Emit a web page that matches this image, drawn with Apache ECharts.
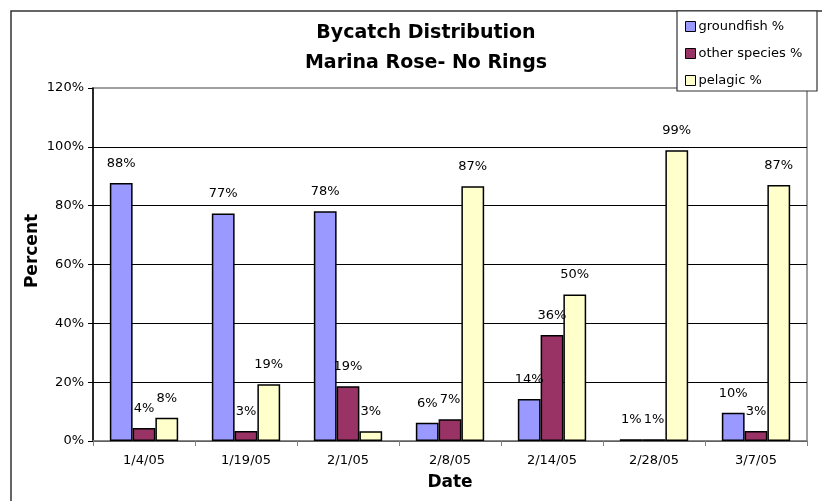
<!DOCTYPE html>
<html>
<head>
<meta charset="utf-8">
<script src="https://cdn.jsdelivr.net/npm/echarts@6/dist/echarts.min.js"></script>
<style>
  html, body { margin: 0; padding: 0; background: #fff; }
  #chart { width: 822px; height: 501px; }
</style>
</head>
<body>
<div id="chart"></div>
<script>
// data (percent)
const dates = ['1/4/05', '1/19/05', '2/1/05', '2/8/05', '2/14/05', '2/28/05', '3/7/05'];
const groundfish = [87.7, 77.3, 78.1, 6.2, 14.3, 0.6, 9.6];
const otherSpecies = [4.4, 3.4, 18.6, 7.4, 36.0, 0.6, 3.4];
const pelagic = [7.9, 19.3, 3.3, 86.6, 49.8, 98.8, 87.0];
const yTicks = [0, 20, 40, 60, 80, 100, 120];

// the original text is Arial with wide spacing, DejaVu gets closer in width
const FONT = '"DejaVu Sans", "Liberation Sans", Arial, sans-serif';

function makeSeries(name, data, color) {
    return {
        name: name,
        type: 'bar',
        data: data,
        barGap: '0%',
        barCategoryGap: '33%',
        itemStyle: { color: color, borderColor: '#000', borderWidth: 1.5 },
        label: {
            show: true,
            position: 'top',
            distance: 13,
            color: '#000',
            fontFamily: FONT,
            fontSize: 13,
            formatter: p => Math.round(p.value) + '%'
        }
    };
}

const chart = echarts.init(document.getElementById('chart'));
chart.setOption({
    animation: false,
    backgroundColor: '#fff',
    textStyle: { fontFamily: FONT },
    title: {
        text: 'Bycatch Distribution\nMarina Rose- No Rings',
        left: 421,
        top: 13,
        textAlign: 'center',
        textStyle: { fontFamily: FONT, fontSize: 19, fontWeight: 'bold', color: '#000', lineHeight: 30 }
    },
    legend: {
        orient: 'vertical',
        left: 680,
        top: 15,
        itemWidth: 10,
        itemHeight: 10,
        itemGap: 14,
        icon: 'rect',
        z: 5,
        itemStyle: { borderColor: '#000', borderWidth: 1 },
        textStyle: { fontFamily: FONT, fontSize: 13, color: '#000', padding: [0, 0, 0, -2] },
        data: ['groundfish %', 'other species %', 'pelagic %']
    },
    grid: {
        left: 93, right: 15, top: 88, bottom: 60,
        show: true,
        borderColor: '#808080',
        borderWidth: 1.5
    },
    xAxis: {
        type: 'category',
        data: dates,
        name: 'Date',
        nameLocation: 'middle',
        nameGap: 33,
        nameTextStyle: { fontFamily: FONT, fontSize: 17, fontWeight: 'bold', color: '#000' },
        axisLine: { lineStyle: { color: '#808080', width: 1.5 } },
        axisTick: { show: true, length: 5, lineStyle: { color: '#808080' } },
        axisLabel: { margin: 13, color: '#000', fontFamily: FONT, fontSize: 13 }
    },
    yAxis: {
        type: 'value',
        min: yTicks[0],
        max: yTicks[yTicks.length - 1],
        interval: 20,
        axisLine: { show: true, lineStyle: { color: '#000', width: 1.5 } },
        axisTick: { show: true, length: 5, lineStyle: { color: '#000' } },
        axisLabel: { margin: 9, color: '#000', fontFamily: FONT, fontSize: 13, formatter: '{value}%' },
        splitLine: { show: true, showMaxLine: false, lineStyle: { color: '#000', width: 1 } }
    },
    graphic: [
        {
            type: 'rect',
            z: -1,
            shape: { x: 11, y: 11, width: 900, height: 600 },
            style: { fill: null, stroke: '#333', lineWidth: 1.5 }
        },
        {
            type: 'rect',
            z: 4,
            shape: { x: 677, y: 11, width: 140, height: 80 },
            style: { fill: '#fff', stroke: '#333', lineWidth: 1.2 }
        },
        {
            type: 'text',
            x: 33,
            y: 251,
            rotation: Math.PI / 2,
            style: {
                text: 'Percent',
                align: 'center',
                verticalAlign: 'middle',
                font: 'bold 17px ' + FONT,
                fill: '#000'
            }
        }
    ],
    series: [
        makeSeries('groundfish %', groundfish, '#9999FF'),
        makeSeries('other species %', otherSpecies, '#993366'),
        makeSeries('pelagic %', pelagic, '#FFFFCC')
    ]
});
</script>
</body>
</html>
